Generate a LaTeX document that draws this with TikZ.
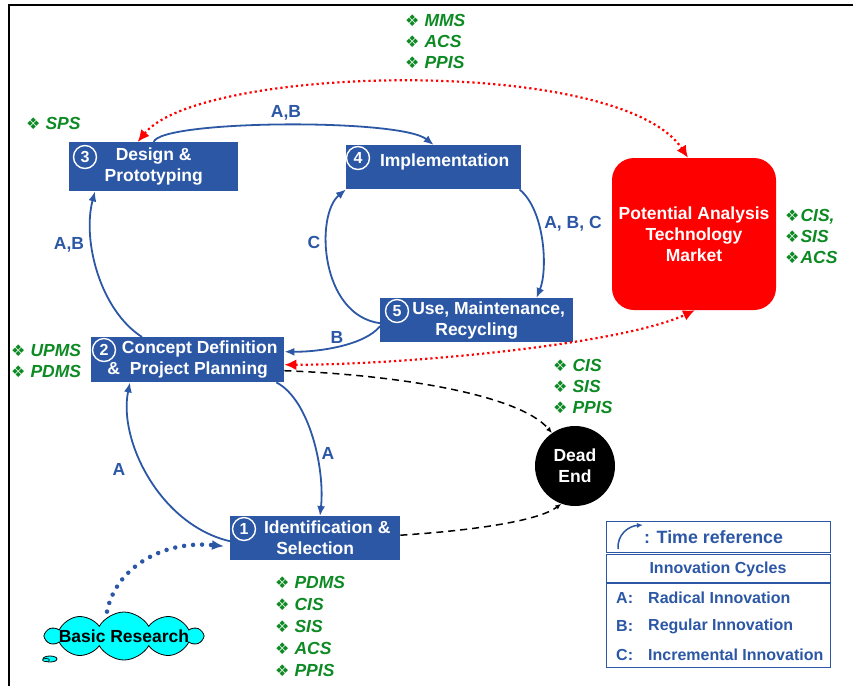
\documentclass[tikz,border=0pt]{standalone}
\usepackage{fontspec}
\setmainfont{Liberation Sans}
\newfontfamily\symfont{DejaVu Sans}
\usepackage{tikz}
\usetikzlibrary{arrows.meta,shapes.symbols,positioning}
\definecolor{Box}{HTML}{2B57A5}
\definecolor{Leaf}{HTML}{0E8A24}
\definecolor{Alert}{HTML}{FF0000}
\definecolor{Sky}{HTML}{00FFFF}
\newcommand\bul{{\symfont\fontsize{16}{16}\selectfont ❖}\hspace{5pt}}
\newcommand\bult{{\symfont\fontsize{16}{16}\selectfont ❖}\hspace{1pt}}

\begin{document}
\begin{tikzpicture}[x=1pt,y=-1pt,
  every node/.style={font=\bfseries\fontsize{17.5}{21}\selectfont,align=center,inner sep=0pt},
  phase/.style={fill=Box,text=white,anchor=north west},
  numc/.style={circle,draw=white,line width=1.4pt,text=white,minimum size=23pt,font=\bfseries\fontsize{16}{16}\selectfont},
  tag/.style={text=Leaf,align=left,anchor=west,font=\bfseries\itshape\fontsize{17.5}{21}\selectfont},
  flow/.style={draw=Box,line width=1.8pt,-{Latex[length=10pt,width=8pt]}},
  lab/.style={text=Box,font=\bfseries\fontsize{17.5}{17.5}\selectfont},
  link/.style={draw=Alert,line width=2.2pt,dash pattern=on 2.2pt off 3pt,{Latex[length=12pt,width=11pt]}-{Latex[length=12pt,width=11pt]}},
  dead/.style={draw=black,line width=1.5pt,dash pattern=on 7pt off 5pt,-{Latex[length=6pt,width=5pt]}},
  key/.style={text=Box,font=\bfseries\fontsize{16}{16}\selectfont}]
\useasboundingbox (0,0) rectangle (853,686);
% frame
\coordinate (fr0) at (9,686);
\coordinate (fr1) at (9,5);
\coordinate (fr2) at (853,5);
\draw[line width=2.5pt] (fr0) -- (fr1) -- (fr2);

% phases
\node[phase,minimum width=169pt,minimum height=49pt] (design) at (69,142) {Design \&\\Prototyping};
\node[phase,minimum width=175pt,minimum height=44pt,text depth=14pt] (impl) at (346,145) {\hspace*{22pt}Implementation};
\node[phase,minimum width=193pt,minimum height=44pt] (use) at (380,298) {\hspace*{24pt}Use, Maintenance,\\Recycling};
\node[phase,minimum width=193pt,minimum height=45pt] (concept) at (91,337) {\hspace*{24pt}Concept Definition\\\&\ \ Project Planning};
\node[phase,minimum width=170pt,minimum height=44pt] (ident) at (230,516) {\hspace*{24pt}Identification \&\\Selection};
\node[numc] (n1) at (244,529) {1};
\node[numc] (n2) at (104,350) {2};
\node[numc] (n3) at (85,157) {3};
\node[numc] (n4) at (358,158) {4};
\node[numc] (n5) at (397,311) {5};

\node[fill=Alert,text=white,rounded corners=22pt,minimum width=164pt,minimum height=152pt] (market) at (694,234) {Potential Analysis\\Technology\\Market};
\node[circle,fill=black,text=white,minimum size=80pt] (dead) at (575,466) {Dead\\End};
\node[cloud,cloud puffs=10,cloud puff arc=120,cloud ignores aspect,fill=Sky,draw=black,line width=0.8pt,minimum width=156pt,minimum height=48pt] (basic) at (124,636) {};
\node (basiclab) at (basic.center) {Basic Research};
\draw[fill=Sky,line width=0.8pt] (50,659) ellipse [x radius=7pt,y radius=3pt];
\draw[fill=Sky,line width=0.6pt] (46,660) ellipse [x radius=3.5pt,y radius=1.6pt];

% tools
\node[tag] (tgtop) at (405,41) {\bul MMS\\\bul ACS\\\bul PPIS};
\node[tag] (tgsps) at (26,123) {\bul SPS};
\node[tag] (tgconcept) at (11,361) {\bul UPMS\\\bul PDMS};
\node[tag] (tgdead) at (553,386) {\bul CIS\\\bul SIS\\\bul PPIS};
\node[tag] (tgmarket) at (785,236) {\bult CIS,\\\bult SIS\\\bult ACS};
\node[tag,font=\bfseries\itshape\fontsize{17.5}{22}\selectfont] (tgident) at (275,626) {\bul PDMS\\\bul CIS\\\bul SIS\\\bul ACS\\\bul PPIS};

% cycles
\draw[flow] (design.north) .. controls (160,120) and (400,118) .. (impl.north);
\draw[flow] ([xshift=-2pt]impl.south east) .. controls (545,210) and (548,270) .. ([xshift=-37pt]use.north east);
\draw[flow] ([yshift=-3pt]use.west) .. controls (320,315) and (315,215) .. (impl.south west);
\draw[flow] ([yshift=-6pt]use.west) .. controls (365,345) and (320,352) .. ([yshift=8pt]concept.east);
\draw[flow] ([xshift=51pt]concept.north west) .. controls (100,310) and (82,240) .. ([xshift=26pt]design.south west);
\draw[flow] ([xshift=-8pt]concept.south east) .. controls (310,400) and (325,470) .. ([xshift=90pt]ident.north west);
\draw[flow] ([yshift=-3pt]ident.west) .. controls (160,525) and (118,440) .. ([xshift=39pt]concept.south west);
\node[lab] (l1) at (286,113) {A,B};
\node[lab] (l2) at (573,224) {A, B, C};
\node[lab] (l3) at (314,242) {C};
\node[lab] (l4) at (337,337) {B};
\node[lab] (l5) at (69,245) {A,B};
\node[lab] (l6) at (328,453) {A};
\node[lab] (l7) at (119,469) {A};

% market links
\draw[link] ([xshift=-16pt]design.north) .. controls (200,65) and (620,55) .. ([xshift=-6pt]market.north);
\draw[link] ([yshift=-5pt]concept.east) .. controls (400,365) and (620,345) .. ([xshift=1pt]market.south);
\draw[dead] ([yshift=-11pt]concept.east) .. controls (400,375) and (520,395) .. (dead.125);
\draw[dead] ([yshift=3pt]ident.east) .. controls (480,530) and (540,520) .. (dead.250);
\draw[Box,line width=4.5pt,line cap=round,dash pattern=on 0pt off 9pt,-{Latex[length=12pt,width=10pt]}] ([xshift=-17pt]basic.north) .. controls (115,570) and (160,540) .. ([xshift=-6pt,yshift=-8pt]ident.west);

% legend
\node[draw=Box,line width=1.2pt,minimum width=224pt,minimum height=31pt,anchor=north west] (timebox) at (606,521) {};
\node[draw=Box,line width=1.2pt,minimum width=224pt,minimum height=113pt,anchor=north west] (cycbox) at (606,554) {};
\coordinate (sepl) at (606,583);
\coordinate (sepr) at (830,583);
\draw[Box,line width=1.2pt] (sepl) -- (sepr);
\coordinate (tr0) at (618,549);
\coordinate (tr1) at (643,525);
\draw[Box,line width=1.5pt,-{Latex[length=6pt,width=5pt]}] (tr0) .. controls (617,535) and (628,526) .. (tr1);
\node[key,font=\bfseries\fontsize{17.8}{17.8}\selectfont,anchor=west] (timelab) at (644,537) {: Time reference};
\node[key] (cychead) at (718,569) {Innovation Cycles};
\node[key,anchor=west] (ka) at (616,598) {A:};
\node[key,anchor=west] (ra) at (648,598) {Radical Innovation};
\node[key,anchor=west] (kb) at (616,626) {B:};
\node[key,anchor=west] (rb) at (648,626) {Regular Innovation};
\node[key,anchor=west] (kc) at (616,655) {C:};
\node[key,anchor=west] (rc) at (648,655) {Incremental Innovation};
\end{tikzpicture}
\end{document}
